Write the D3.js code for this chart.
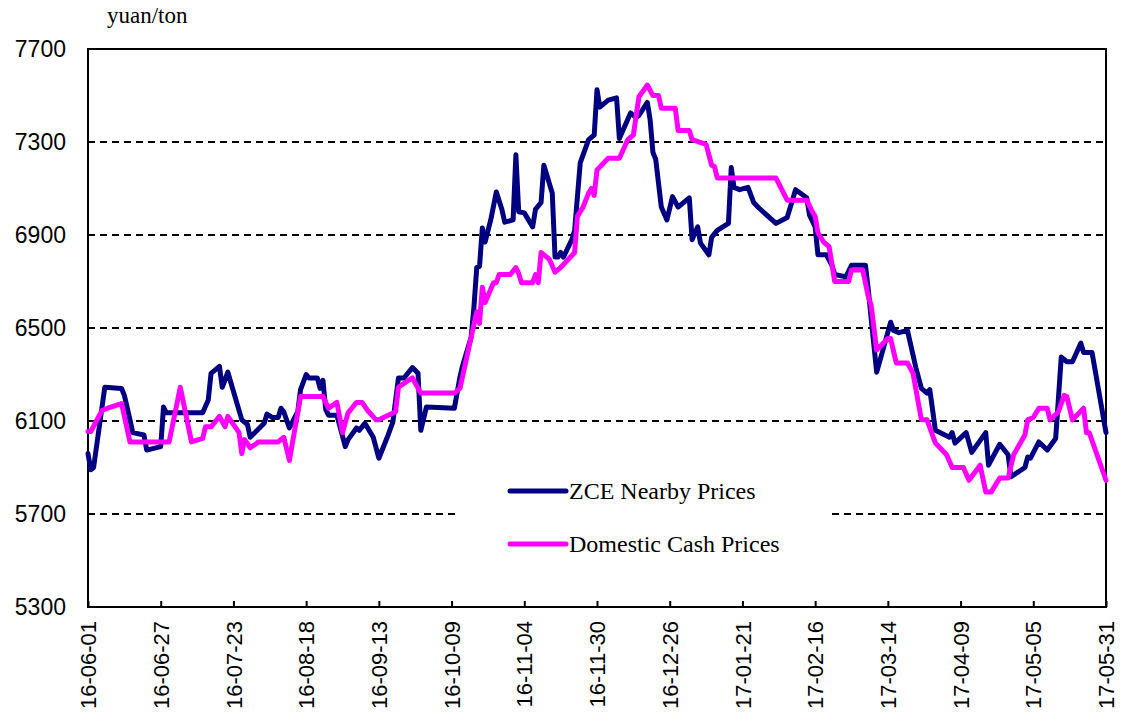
<!DOCTYPE html>
<html>
<head>
<meta charset="utf-8">
<script src="https://cdn.jsdelivr.net/npm/d3@7"></script>
<style>
  body { margin: 0; background: #fff; }
  #chart { width: 1127px; height: 713px; }
</style>
</head>
<body>
<div id="chart"></div>
<script>
// values, [date, yuan/ton]
const zceData = [
  ["16-06-01",5960],["16-06-02",5890],["16-06-03",5900],["16-06-07",6245],["16-06-13",6240],["16-06-14",6210],
  ["16-06-16",6105],["16-06-17",6050],["16-06-21",6040],["16-06-22",5975],["16-06-27",5990],["16-06-28",6160],
  ["16-06-29",6135],["16-07-12",6135],["16-07-14",6190],["16-07-15",6305],["16-07-18",6335],["16-07-19",6245],
  ["16-07-21",6310],["16-07-26",6105],["16-07-28",6085],["16-07-29",6030],["16-08-03",6090],["16-08-04",6130],
  ["16-08-06",6115],["16-08-08",6115],["16-08-09",6155],["16-08-10",6140],["16-08-12",6070],["16-08-15",6140],
  ["16-08-16",6235],["16-08-18",6300],["16-08-19",6285],["16-08-22",6285],["16-08-23",6240],["16-08-24",6275],
  ["16-08-25",6150],["16-08-26",6125],["16-08-29",6125],["16-09-01",5990],["16-09-02",6020],["16-09-05",6070],
  ["16-09-06",6060],["16-09-08",6090],["16-09-11",6030],["16-09-13",5940],["16-09-16",6030],["16-09-18",6095],
  ["16-09-20",6285],["16-09-22",6285],["16-09-25",6330],["16-09-27",6305],["16-09-28",6060],["16-09-30",6160],
  ["16-10-10",6155],["16-10-12",6290],["16-10-13",6340],["16-10-16",6460],["16-10-17",6590],["16-10-18",6760],
  ["16-10-19",6765],["16-10-20",6930],["16-10-21",6870],["16-10-23",6965],["16-10-25",7085],["16-10-27",7010],
  ["16-10-28",6955],["16-10-31",6965],["16-11-01",7245],["16-11-02",7000],["16-11-04",6995],["16-11-07",6935],
  ["16-11-08",7010],["16-11-10",7040],["16-11-11",7200],["16-11-14",7080],["16-11-15",6805],["16-11-16",6805],
  ["16-11-17",6825],["16-11-18",6805],["16-11-21",6880],["16-11-22",6920],["16-11-24",7210],["16-11-27",7310],
  ["16-11-29",7330],["16-11-30",7525],["16-12-01",7450],["16-12-04",7480],["16-12-07",7490],["16-12-08",7315],
  ["16-12-12",7425],["16-12-14",7405],["16-12-15",7415],["16-12-18",7470],["16-12-19",7395],["16-12-20",7255],
  ["16-12-21",7225],["16-12-23",7020],["16-12-25",6965],["16-12-27",7065],["16-12-29",7020],["17-01-02",7060],
  ["17-01-03",6880],["17-01-05",6935],["17-01-06",6865],["17-01-09",6815],["17-01-10",6890],["17-01-12",6920],
  ["17-01-16",6950],["17-01-17",7190],["17-01-18",7105],["17-01-20",7095],["17-01-23",7105],["17-01-25",7040],
  ["17-01-27",7015],["17-02-02",6950],["17-02-06",6975],["17-02-09",7095],["17-02-13",7060],["17-02-14",6985],
  ["17-02-16",6935],["17-02-17",6815],["17-02-20",6815],["17-02-22",6770],["17-02-23",6730],["17-02-27",6720],
  ["17-03-01",6770],["17-03-06",6770],["17-03-07",6665],["17-03-08",6545],["17-03-10",6310],["17-03-12",6395],
  ["17-03-15",6525],["17-03-16",6490],["17-03-18",6480],["17-03-21",6490],["17-03-24",6330],["17-03-26",6240],
  ["17-03-28",6220],["17-03-29",6235],["17-03-31",6060],["17-04-05",6030],["17-04-06",6050],["17-04-07",6005],
  ["17-04-11",6050],["17-04-13",5965],["17-04-18",6050],["17-04-19",5910],["17-04-23",6000],["17-04-26",5955],
  ["17-04-27",5860],["17-05-02",5900],["17-05-03",5945],["17-05-04",5940],["17-05-07",6010],["17-05-10",5975],
  ["17-05-13",6025],["17-05-15",6375],["17-05-17",6355],["17-05-19",6355],["17-05-22",6435],["17-05-23",6395],
  ["17-05-26",6395],["17-05-31",6050]
];

const cashData = [
  ["16-06-01",6055],["16-06-02",6055],["16-06-06",6145],["16-06-08",6155],["16-06-13",6175],["16-06-16",6010],
  ["16-06-30",6010],["16-07-04",6245],["16-07-08",6010],["16-07-12",6025],["16-07-13",6075],["16-07-15",6075],
  ["16-07-18",6120],["16-07-20",6075],["16-07-21",6120],["16-07-25",6050],["16-07-26",5960],["16-07-27",6020],
  ["16-07-29",5985],["16-08-01",6010],["16-08-08",6010],["16-08-10",6030],["16-08-12",5930],["16-08-16",6205],
  ["16-08-24",6205],["16-08-26",6155],["16-08-29",6180],["16-08-31",6050],["16-09-02",6135],["16-09-05",6180],
  ["16-09-07",6180],["16-09-09",6145],["16-09-12",6105],["16-09-13",6105],["16-09-19",6140],["16-09-20",6245],
  ["16-09-23",6270],["16-09-25",6285],["16-09-28",6220],["16-10-10",6220],["16-10-12",6240],["16-10-16",6460],
  ["16-10-18",6570],["16-10-19",6520],["16-10-20",6675],["16-10-21",6610],["16-10-24",6695],["16-10-25",6695],
  ["16-10-26",6730],["16-10-30",6730],["16-11-01",6760],["16-11-02",6735],["16-11-03",6695],["16-11-07",6695],
  ["16-11-08",6730],["16-11-09",6695],["16-11-10",6825],["16-11-13",6795],["16-11-15",6740],["16-11-17",6760],
  ["16-11-22",6825],["16-11-23",6980],["16-11-25",7020],["16-11-27",7080],["16-11-28",7100],["16-11-29",7070],
  ["16-11-30",7180],["16-12-04",7230],["16-12-08",7230],["16-12-11",7310],["16-12-13",7330],["16-12-15",7495],
  ["16-12-18",7545],["16-12-20",7500],["16-12-22",7500],["16-12-23",7445],["16-12-28",7445],["16-12-29",7350],
  ["17-01-02",7350],["17-01-03",7310],["17-01-08",7290],["17-01-10",7200],["17-01-11",7195],["17-01-12",7145],
  ["17-02-02",7145],["17-02-06",7050],["17-02-13",7050],["17-02-15",7000],["17-02-16",6980],["17-02-17",6910],
  ["17-02-19",6870],["17-02-21",6850],["17-02-23",6700],["17-02-28",6700],["17-03-01",6750],["17-03-05",6750],
  ["17-03-07",6635],["17-03-08",6600],["17-03-10",6405],["17-03-14",6455],["17-03-15",6455],["17-03-17",6350],
  ["17-03-21",6350],["17-03-23",6305],["17-03-26",6105],["17-03-28",6105],["17-03-31",6005],["17-04-04",5955],
  ["17-04-06",5900],["17-04-10",5900],["17-04-12",5845],["17-04-16",5910],["17-04-18",5795],["17-04-20",5795],
  ["17-04-23",5855],["17-04-26",5855],["17-04-28",5955],["17-05-02",6040],["17-05-03",6105],["17-05-05",6115],
  ["17-05-07",6155],["17-05-10",6155],["17-05-11",6105],["17-05-14",6140],["17-05-16",6210],["17-05-17",6205],
  ["17-05-19",6105],["17-05-23",6155],["17-05-24",6050],["17-05-25",6050],["17-05-31",5845]
];

const xTickLabels = ["16-06-01","16-06-27","16-07-23","16-08-18","16-09-13","16-10-09","16-11-04",
  "16-11-30","16-12-26","17-01-21","17-02-16","17-03-14","17-04-09","17-05-05","17-05-31"];
const yTicks = [5300, 5700, 6100, 6500, 6900, 7300, 7700];
const seriesNames = ["ZCE Nearby Prices", "Domestic Cash Prices"];
const seriesColors = ["#000080", "#ff00ff"];
const unitLabel = "yuan/ton";

class PriceChart {
  /**
   * @param {Object} _config
   * @param {Array} _series  list of [date, value] arrays
   */
  constructor(_config, _series) {
    this.config = {
      parentElement: _config.parentElement,
      containerWidth: _config.containerWidth || 1127,
      containerHeight: _config.containerHeight || 713,
      margin: _config.margin || { top: 49, right: 21, bottom: 106, left: 88 },
    };
    this.series = _series;
    this.parseDate = d3.timeParse("%y-%m-%d");
    this.initVis();
  }

  initVis() {
    let vis = this;
    const m = vis.config.margin;
    vis.width = vis.config.containerWidth - m.left - m.right;
    vis.height = vis.config.containerHeight - m.top - m.bottom;

    vis.root = d3.select(vis.config.parentElement)
      .append("svg")
      .attr("width", vis.config.containerWidth)
      .attr("height", vis.config.containerHeight);

    vis.svg = vis.root.append("g")
      .attr("transform", `translate(${m.left},${m.top})`);

    vis.xScale = d3.scaleTime()
      .domain([vis.parseDate(xTickLabels[0]), vis.parseDate(xTickLabels[xTickLabels.length - 1])])
      .range([0, vis.width]);
    vis.yScale = d3.scaleLinear()
      .domain([5300, 7700])
      .range([vis.height, 0]);

    vis.renderVis();
  }

  renderVis() {
    let vis = this;

    // dashed gridlines
    vis.svg.selectAll(".grid")
      .data(yTicks.filter((t) => t > 5300 && t < 7700))
      .join("line")
      .attr("class", "grid")
      .attr("x1", 0)
      .attr("x2", vis.width)
      .attr("y1", (d) => Math.round(vis.yScale(d)))
      .attr("y2", (d) => Math.round(vis.yScale(d)))
      .attr("stroke", "#000")
      .attr("stroke-width", 2)
      .attr("stroke-dasharray", "7,5");

    // y labels
    const yAxis = d3.axisLeft(vis.yScale)
      .tickValues(yTicks)
      .tickFormat(d3.format("d"))
      .tickSize(0)
      .tickPadding(22);
    vis.svg.append("g")
      .call(yAxis)
      .call((g) => g.select(".domain").remove())
      .selectAll("text")
      .attr("font-family", "Arial, 'Liberation Sans', sans-serif")
      .attr("font-size", 23)
      .attr("fill", "#000");

    // x axis, ticks point inward
    const xAxis = d3.axisBottom(vis.xScale)
      .tickValues(xTickLabels.map(vis.parseDate))
      .tickFormat(d3.timeFormat("%y-%m-%d"))
      .tickSizeInner(-6)
      .tickSizeOuter(0);
    const gx = vis.svg.append("g")
      .attr("transform", `translate(0,${vis.height})`)
      .call(xAxis);
    gx.select(".domain").remove();
    gx.selectAll("line").attr("stroke", "#000").attr("stroke-width", 2);
    gx.selectAll("text")
      .attr("font-family", "Arial, 'Liberation Sans', sans-serif")
      .attr("font-size", 22)
      .attr("fill", "#000")
      .attr("text-anchor", "end")
      .attr("dy", "0.35em")
      .attr("transform", "translate(0,4) rotate(-90)")
      .attr("x", -10)
      .attr("y", 0);

    // plot border
    vis.svg.append("rect")
      .attr("width", vis.width)
      .attr("height", vis.height)
      .attr("fill", "none")
      .attr("stroke", "#000")
      .attr("stroke-width", 2);

    const line = d3.line()
      .x((d) => vis.xScale(vis.parseDate(d[0])))
      .y((d) => vis.yScale(d[1]));

    vis.svg.selectAll(".series")
      .data(vis.series)
      .join("path")
      .attr("class", "series")
      .attr("d", line)
      .attr("fill", "none")
      .attr("stroke", (d, i) => seriesColors[i])
      .attr("stroke-width", 5)
      .attr("stroke-linejoin", "round")
      .attr("stroke-linecap", "round");

    // legend, white box hides part of the 5700 gridline
    const legend = vis.svg.append("g")
      .attr("transform", `translate(${455 - vis.config.margin.left},${462 - vis.config.margin.top})`);
    legend.append("rect")
      .attr("width", 376)
      .attr("height", 104)
      .attr("fill", "#fff");
    const item = legend.selectAll(".item")
      .data(seriesNames)
      .join("g")
      .attr("class", "item")
      .attr("transform", (d, i) => `translate(55,${29 + i * 53})`);
    item.append("line")
      .attr("x1", 0)
      .attr("x2", 56)
      .attr("stroke", (d, i) => seriesColors[i])
      .attr("stroke-width", 5)
      .attr("stroke-linecap", "round");
    item.append("text")
      .attr("x", 59)
      .attr("dy", "0.35em")
      .attr("font-family", "'Times New Roman', 'Liberation Serif', serif")
      .attr("font-size", 24)
      .text((d) => d);

    vis.root.append("text")
      .attr("x", 107)
      .attr("y", 23)
      .attr("font-family", "'Times New Roman', 'Liberation Serif', serif")
      .attr("font-size", 23)
      .text(unitLabel);
  }
}

const chart = new PriceChart({ parentElement: "#chart" }, [zceData, cashData]);
</script>
</body>
</html>
